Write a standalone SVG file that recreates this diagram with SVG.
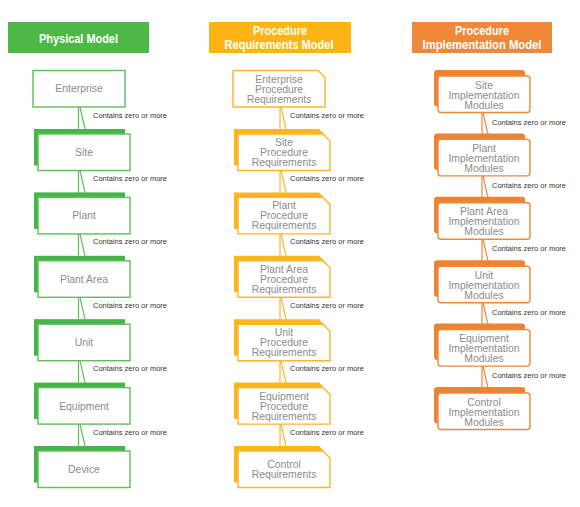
<svg xmlns="http://www.w3.org/2000/svg" width="580" height="507" viewBox="0 0 580 507">
<style>
.hdr{font-family:"Liberation Sans",Arial,sans-serif;font-weight:bold;font-size:13.5px;fill:#fff;text-anchor:middle}
.hdr2{font-family:"Liberation Sans",Arial,sans-serif;font-weight:bold;font-size:12.5px;fill:#fff;text-anchor:middle}
.t{font-family:"Liberation Sans",Arial,sans-serif;font-size:10.4px;fill:#8c8c8c;text-anchor:middle}
.lbl{font-family:"Liberation Sans",Arial,sans-serif;font-size:7.5px;fill:#333}
.gf{fill:#fff;stroke:#5cbf57;stroke-width:1.4}
.gs{fill:#45b54a}
.yf{fill:#fff;stroke:#fdb52b;stroke-width:1.4}
.ys{fill:#fdb519}
.of{fill:#fff;stroke:#f0883b;stroke-width:1.4}
.os{fill:#ee8431}
.gc{stroke:#5cbf57;stroke-width:1.2;fill:none}
.yc{stroke:#fdb52b;stroke-width:1.2;fill:none}
.oc{stroke:#f0883b;stroke-width:1.2;fill:none}
</style>
<rect width="580" height="507" fill="#fff"/>

<!-- Headers -->
<g id="hdr-physical">
<rect x="8" y="22" width="141" height="31" fill="#4db848"/>
<text class="hdr" x="78.5" y="43" textLength="79" lengthAdjust="spacingAndGlyphs">Physical Model</text>
</g>
<g id="hdr-preq">
<rect x="209" y="22" width="142" height="31" fill="#fdb515"/>
<text class="hdr2" x="280" y="35" textLength="54" lengthAdjust="spacingAndGlyphs">Procedure</text>
<text class="hdr2" x="279" y="49" textLength="109" lengthAdjust="spacingAndGlyphs">Requirements Model</text>
</g>
<g id="hdr-pimpl">
<rect x="412" y="22" width="140" height="31" fill="#f0883a"/>
<text class="hdr2" x="482" y="35" textLength="54" lengthAdjust="spacingAndGlyphs">Procedure</text>
<text class="hdr2" x="482" y="49" textLength="119" lengthAdjust="spacingAndGlyphs">Implementation Model</text>
</g>

<!-- Connectors -->
<g id="connectors">
<!-- green -->
<path class="gc" d="M78.5,107 V129 M80,107 L85,129"/>
<path class="gc" d="M78.5,170.5 V192.4 M80,170.5 L85,192.4"/>
<path class="gc" d="M78.5,233.9 V255.8 M80,233.9 L85,255.8"/>
<path class="gc" d="M78.5,297.3 V319.2 M80,297.3 L85,319.2"/>
<path class="gc" d="M78.5,360.7 V382.6 M80,360.7 L85,382.6"/>
<path class="gc" d="M78.5,424.1 V446 M80,424.1 L85,446"/>
<!-- yellow -->
<path class="yc" d="M280,107 V129 M281,107 L286,129"/>
<path class="yc" d="M280,170.5 V192.4 M281,170.5 L286,192.4"/>
<path class="yc" d="M280,233.9 V255.8 M281,233.9 L286,255.8"/>
<path class="yc" d="M280,297.3 V319.2 M281,297.3 L286,319.2"/>
<path class="yc" d="M280,360.7 V382.6 M281,360.7 L286,382.6"/>
<path class="yc" d="M280,424.1 V446 M281,424.1 L286,446"/>
<!-- orange -->
<path class="oc" d="M482,112.5 V134.4 M483,112.5 L488,134.4"/>
<path class="oc" d="M482,175.9 V197.8 M483,175.9 L488,197.8"/>
<path class="oc" d="M482,239.3 V261.2 M483,239.3 L488,261.2"/>
<path class="oc" d="M482,302.7 V324.6 M483,302.7 L488,324.6"/>
<path class="oc" d="M482,366.1 V388 M483,366.1 L488,388"/>
<!-- labels -->
<text class="lbl" x="93" y="117.5" textLength="74" lengthAdjust="spacingAndGlyphs">Contains zero or more</text>
<text class="lbl" x="93" y="181" textLength="74" lengthAdjust="spacingAndGlyphs">Contains zero or more</text>
<text class="lbl" x="93" y="244.4" textLength="74" lengthAdjust="spacingAndGlyphs">Contains zero or more</text>
<text class="lbl" x="93" y="307.8" textLength="74" lengthAdjust="spacingAndGlyphs">Contains zero or more</text>
<text class="lbl" x="93" y="371.2" textLength="74" lengthAdjust="spacingAndGlyphs">Contains zero or more</text>
<text class="lbl" x="93" y="434.6" textLength="74" lengthAdjust="spacingAndGlyphs">Contains zero or more</text>
<text class="lbl" x="290" y="117.5" textLength="74" lengthAdjust="spacingAndGlyphs">Contains zero or more</text>
<text class="lbl" x="290" y="181" textLength="74" lengthAdjust="spacingAndGlyphs">Contains zero or more</text>
<text class="lbl" x="290" y="244.4" textLength="74" lengthAdjust="spacingAndGlyphs">Contains zero or more</text>
<text class="lbl" x="290" y="307.8" textLength="74" lengthAdjust="spacingAndGlyphs">Contains zero or more</text>
<text class="lbl" x="290" y="371.2" textLength="74" lengthAdjust="spacingAndGlyphs">Contains zero or more</text>
<text class="lbl" x="290" y="434.6" textLength="74" lengthAdjust="spacingAndGlyphs">Contains zero or more</text>
<text class="lbl" x="492" y="124.5" textLength="74" lengthAdjust="spacingAndGlyphs">Contains zero or more</text>
<text class="lbl" x="492" y="187.9" textLength="74" lengthAdjust="spacingAndGlyphs">Contains zero or more</text>
<text class="lbl" x="492" y="251.3" textLength="74" lengthAdjust="spacingAndGlyphs">Contains zero or more</text>
<text class="lbl" x="492" y="314.7" textLength="74" lengthAdjust="spacingAndGlyphs">Contains zero or more</text>
<text class="lbl" x="492" y="378.1" textLength="74" lengthAdjust="spacingAndGlyphs">Contains zero or more</text>
</g>

<!-- Physical Model column -->
<g id="enterprise">
<rect class="gf" x="33" y="70.5" width="92" height="36.5"/>
<text class="t" x="79" y="92">Enterprise</text>
</g>
<g id="site">
<rect class="gs" x="34" y="129" width="91" height="36.5"/>
<rect class="gf" x="38" y="134" width="92" height="36.5"/>
<text class="t" x="84" y="156">Site</text>
</g>
<g id="plant">
<rect class="gs" x="34" y="192.4" width="91" height="36.5"/>
<rect class="gf" x="38" y="197.4" width="92" height="36.5"/>
<text class="t" x="84" y="219.4">Plant</text>
</g>
<g id="plant-area">
<rect class="gs" x="34" y="255.8" width="91" height="36.5"/>
<rect class="gf" x="38" y="260.8" width="92" height="36.5"/>
<text class="t" x="84" y="282.8">Plant Area</text>
</g>
<g id="unit">
<rect class="gs" x="34" y="319.2" width="91" height="36.5"/>
<rect class="gf" x="38" y="324.2" width="92" height="36.5"/>
<text class="t" x="84" y="346.2">Unit</text>
</g>
<g id="equipment">
<rect class="gs" x="34" y="382.6" width="91" height="36.5"/>
<rect class="gf" x="38" y="387.6" width="92" height="36.5"/>
<text class="t" x="84" y="409.6">Equipment</text>
</g>
<g id="device">
<rect class="gs" x="34" y="446" width="91" height="36.5"/>
<rect class="gf" x="38" y="451" width="92" height="36.5"/>
<text class="t" x="84" y="473">Device</text>
</g>

<!-- Procedure Requirements column -->
<g id="enterprise-pr">
<path class="yf" d="M233,70.5 H318 L325,77.5 V107 H233 Z"/>
<text class="t" x="279" y="82.5">Enterprise</text>
<text class="t" x="279" y="92.5">Procedure</text>
<text class="t" x="279" y="102.5">Requirements</text>
</g>
<g id="site-pr">
<path class="ys" d="M234,129 H319 L326,136 V165.5 H234 Z"/>
<path class="yf" d="M238,134 H323 L330,141 V170.5 H238 Z"/>
<text class="t" x="284" y="146">Site</text>
<text class="t" x="284" y="156">Procedure</text>
<text class="t" x="284" y="166">Requirements</text>
</g>
<g id="plant-pr">
<path class="ys" d="M234,192.4 H319 L326,199.4 V228.9 H234 Z"/>
<path class="yf" d="M238,197.4 H323 L330,204.4 V233.9 H238 Z"/>
<text class="t" x="284" y="209.4">Plant</text>
<text class="t" x="284" y="219.4">Procedure</text>
<text class="t" x="284" y="229.4">Requirements</text>
</g>
<g id="plant-area-pr">
<path class="ys" d="M234,255.8 H319 L326,262.8 V292.3 H234 Z"/>
<path class="yf" d="M238,260.8 H323 L330,267.8 V297.3 H238 Z"/>
<text class="t" x="284" y="272.8">Plant Area</text>
<text class="t" x="284" y="282.8">Procedure</text>
<text class="t" x="284" y="292.8">Requirements</text>
</g>
<g id="unit-pr">
<path class="ys" d="M234,319.2 H319 L326,326.2 V355.7 H234 Z"/>
<path class="yf" d="M238,324.2 H323 L330,331.2 V360.7 H238 Z"/>
<text class="t" x="284" y="336.2">Unit</text>
<text class="t" x="284" y="346.2">Procedure</text>
<text class="t" x="284" y="356.2">Requirements</text>
</g>
<g id="equipment-pr">
<path class="ys" d="M234,382.6 H319 L326,389.6 V419.1 H234 Z"/>
<path class="yf" d="M238,387.6 H323 L330,394.6 V424.1 H238 Z"/>
<text class="t" x="284" y="399.6">Equipment</text>
<text class="t" x="284" y="409.6">Procedure</text>
<text class="t" x="284" y="419.6">Requirements</text>
</g>
<g id="control-pr">
<path class="ys" d="M234,446 H319 L326,453 V482.5 H234 Z"/>
<path class="yf" d="M238,451 H323 L330,458 V487.5 H238 Z"/>
<text class="t" x="284" y="468">Control</text>
<text class="t" x="284" y="478">Requirements</text>
</g>

<!-- Procedure Implementation column -->
<g id="site-im">
<rect class="os" x="434" y="70" width="91" height="36.5" rx="3"/>
<rect class="of" x="438" y="76" width="92" height="36.5" rx="3"/>
<text class="t" x="484" y="88.5">Site</text>
<text class="t" x="484" y="98.5">Implementation</text>
<text class="t" x="484" y="108.5">Modules</text>
</g>
<g id="plant-im">
<rect class="os" x="434" y="133.4" width="91" height="36.5" rx="3"/>
<rect class="of" x="438" y="139.4" width="92" height="36.5" rx="3"/>
<text class="t" x="484" y="151.9">Plant</text>
<text class="t" x="484" y="161.9">Implementation</text>
<text class="t" x="484" y="171.9">Modules</text>
</g>
<g id="plant-area-im">
<rect class="os" x="434" y="196.8" width="91" height="36.5" rx="3"/>
<rect class="of" x="438" y="202.8" width="92" height="36.5" rx="3"/>
<text class="t" x="484" y="215.3">Plant Area</text>
<text class="t" x="484" y="225.3">Implementation</text>
<text class="t" x="484" y="235.3">Modules</text>
</g>
<g id="unit-im">
<rect class="os" x="434" y="260.2" width="91" height="36.5" rx="3"/>
<rect class="of" x="438" y="266.2" width="92" height="36.5" rx="3"/>
<text class="t" x="484" y="278.7">Unit</text>
<text class="t" x="484" y="288.7">Implementation</text>
<text class="t" x="484" y="298.7">Modules</text>
</g>
<g id="equipment-im">
<rect class="os" x="434" y="323.6" width="91" height="36.5" rx="3"/>
<rect class="of" x="438" y="329.6" width="92" height="36.5" rx="3"/>
<text class="t" x="484" y="342.1">Equipment</text>
<text class="t" x="484" y="352.1">Implementation</text>
<text class="t" x="484" y="362.1">Modules</text>
</g>
<g id="control-im">
<rect class="os" x="434" y="387" width="91" height="36.5" rx="3"/>
<rect class="of" x="438" y="393" width="92" height="36.5" rx="3"/>
<text class="t" x="484" y="405.5">Control</text>
<text class="t" x="484" y="415.5">Implementation</text>
<text class="t" x="484" y="425.5">Modules</text>
</g>
</svg>
